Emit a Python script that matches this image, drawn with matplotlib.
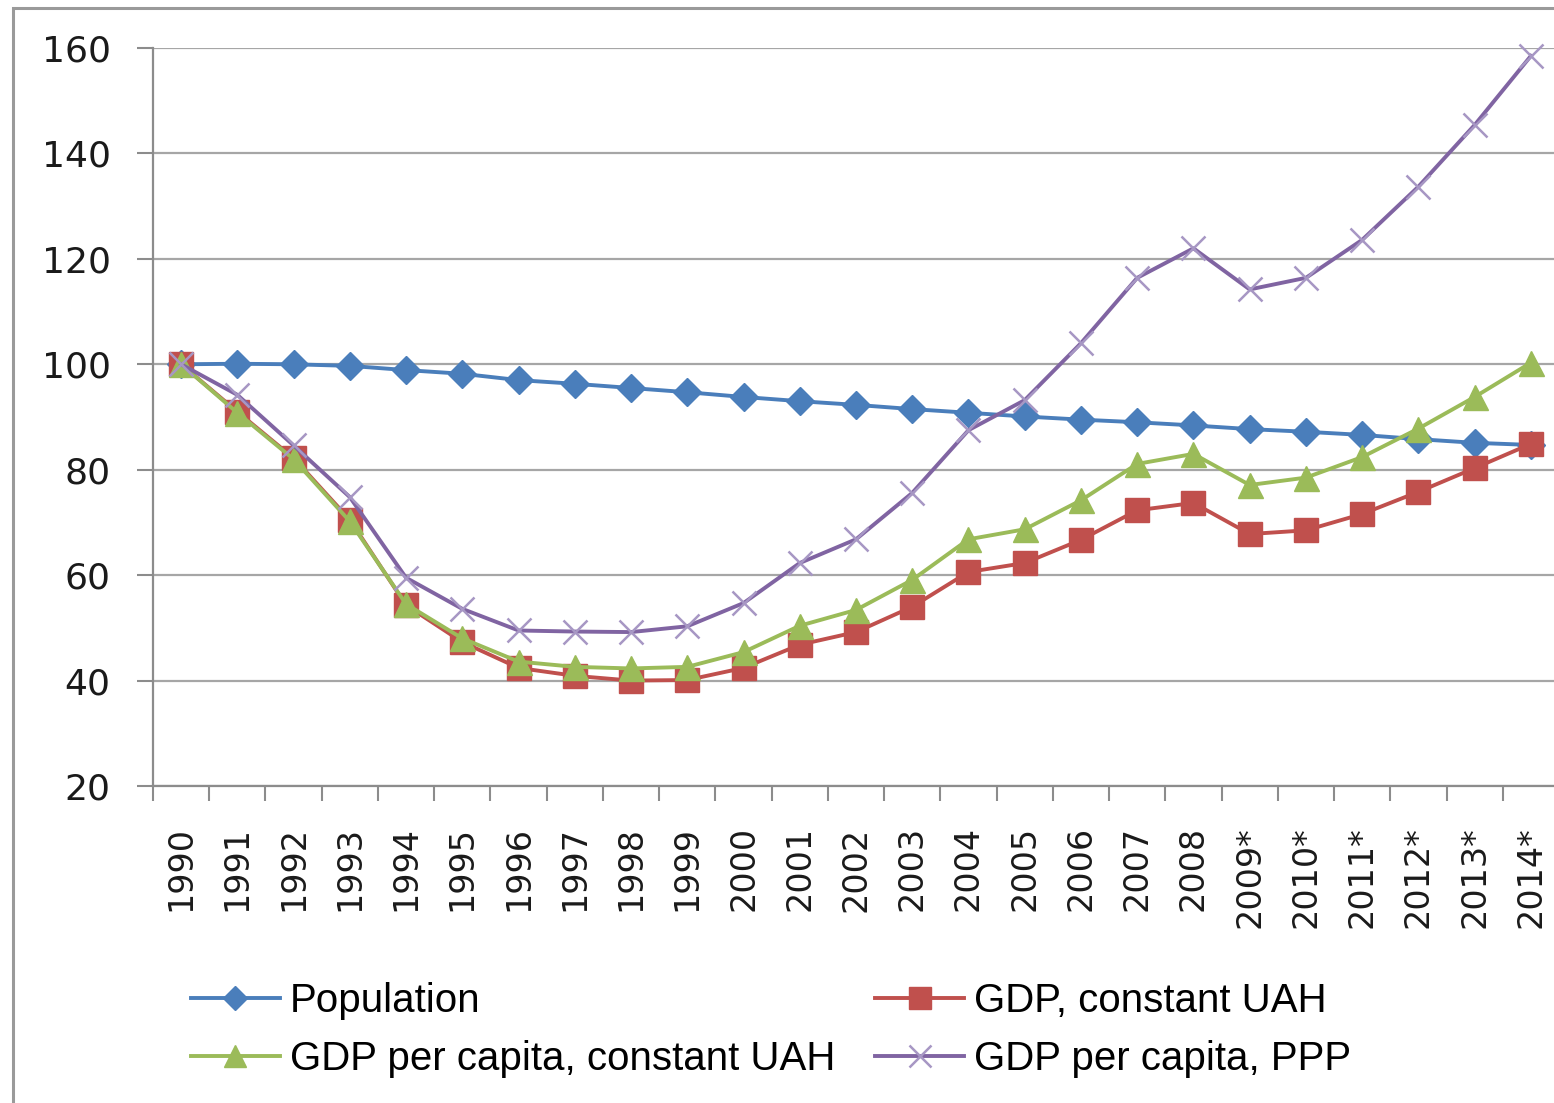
import matplotlib.pyplot as plt
import matplotlib.patches as patches
import numpy as np

years = ["1990", "1991", "1992", "1993", "1994", "1995", "1996", "1997", "1998", "1999",
         "2000", "2001", "2002", "2003", "2004", "2005", "2006", "2007", "2008",
         "2009*", "2010*", "2011*", "2012*", "2013*", "2014*"]

population = [100, 100.1, 100, 99.7, 98.9, 98.2, 97.0, 96.3, 95.5, 94.7,
              93.8, 93.0, 92.3, 91.5, 90.8, 90.1, 89.5, 89.0, 88.4,
              87.7, 87.2, 86.6, 85.8, 85.1, 84.7]
gdp_uah = [100, 91.0, 82.2, 70.5, 54.3, 47.3, 42.4, 40.9, 40.0, 40.1,
           42.4, 46.8, 49.2, 54.0, 60.6, 62.3, 66.7, 72.3, 73.7,
           67.8, 68.5, 71.6, 75.8, 80.3, 84.9]
gdp_pc_uah = [100, 90.8, 82.0, 70.2, 54.5, 48.0, 43.6, 42.6, 42.3, 42.6,
              45.4, 50.4, 53.4, 59.1, 66.8, 68.7, 74.2, 81.1, 83.0,
              77.1, 78.5, 82.4, 87.8, 93.8, 100.3]
gdp_pc_ppp = [100, 94.2, 84.6, 74.8, 59.5, 53.6, 49.5, 49.3, 49.2, 50.3,
              54.7, 62.3, 66.8, 75.6, 87.5, 93.2, 104.0, 116.4, 122.0,
              114.2, 116.4, 123.6, 133.7, 145.4, 158.5]

series = [
    ("Population", population, "#4A7EBB", "D", 14),
    ("GDP, constant UAH", gdp_uah, "#C0504D", "s", 17),
    ("GDP per capita, constant UAH", gdp_pc_uah, "#9BBB59", "^", 18),
    ("GDP per capita, PPP", gdp_pc_ppp, "#8064A2", "x", 17),
]

W, H = 1554, 1103
fig = plt.figure(figsize=(W / 100, H / 100), dpi=100)
ax = fig.add_axes([153 / W, 1 - 786 / H, (1559 - 153) / W, 738 / H])

x = np.arange(len(years))
handles = []
for name, vals, col, mk, ms in series:
    if mk == "x":
        ln, = ax.plot(x, vals, color=col, lw=2.8, marker=mk, ms=ms,
                      mec="#A797C4", mew=1.8, label=name, clip_on=False)
    else:
        ln, = ax.plot(x, vals, color=col, lw=2.8, marker=mk, ms=ms,
                      mfc=col, mec=col, label=name, clip_on=False)
    handles.append(ln)

ax.set_xlim(-0.5, 24.5)
ax.set_ylim(20, 160)
ax.set_yticks(np.arange(20, 161, 20))
ax.set_xticks(x)
ax.set_xticklabels(years, rotation=90, va="top", ha="center",
                   fontsize=24, color="#1a1a1a")
ax.set_xticks(np.arange(-0.5, 25, 1), minor=True)
ax.tick_params(axis="x", which="major", length=0, pad=29)
ax.tick_params(axis="x", which="minor", length=11, width=1.5,
               color="#8c8c8c", direction="out")
ax.tick_params(axis="y", length=11.5, width=1.5, color="#8c8c8c",
               direction="out", pad=19, labelsize=26, labelcolor="#1a1a1a")

ax.grid(axis="y", color="#a6a6a6", lw=1.6)
ax.set_axisbelow(True)
for s in ["top", "right"]:
    ax.spines[s].set_visible(False)
for s in ["left", "bottom"]:
    ax.spines[s].set_color("#8c8c8c")
    ax.spines[s].set_linewidth(1.6)

# legend fills column by column: put entries in row order of the reference
order = [0, 2, 1, 3]
leg_h = [handles[i] for i in order]
fig.legend(handles=leg_h, labels=[h.get_label() for h in leg_h],
           loc="upper left", bbox_to_anchor=(191 / W, 1 - 982 / H),
           ncol=2, frameon=False, borderpad=0, borderaxespad=0,
           prop={"family": "Liberation Sans", "size": 29},
           handlelength=2.2, handletextpad=0.25, columnspacing=1.0,
           labelspacing=0.5, markerscale=0.9)

# chart-area border (only top/left visible)
fig.add_artist(patches.Rectangle((13 / W, -0.2), 1.2, 1 - 8 / H + 0.2,
                                 transform=fig.transFigure, fill=False,
                                 edgecolor="#9a9a9a", lw=2.2))

fig.savefig("out.png", dpi=100)
